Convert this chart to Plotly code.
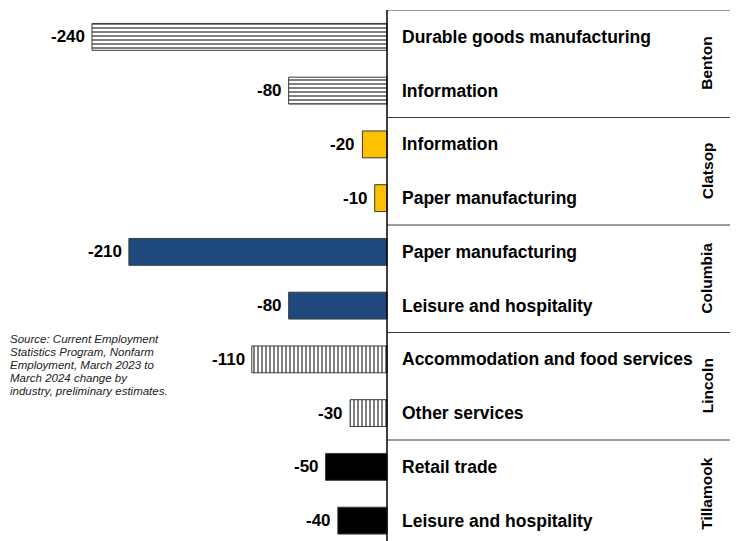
import plotly.graph_objects as go

counties = ["Benton", "Benton", "Clatsop", "Clatsop", "Columbia", "Columbia",
            "Lincoln", "Lincoln", "Tillamook", "Tillamook"]
industries = ["Durable goods manufacturing", "Information", "Information",
              "Paper manufacturing", "Paper manufacturing", "Leisure and hospitality",
              "Accommodation and food services", "Other services", "Retail trade",
              "Leisure and hospitality"]
changes = [-240, -80, -20, -10, -210, -80, -110, -30, -50, -40]
group_names = ["Benton", "Clatsop", "Columbia", "Lincoln", "Tillamook"]
source_lines = ["Source: Current Employment", "Statistics Program, Nonfarm",
                "Employment, March 2023 to", "March 2024 change by",
                "industry, preliminary estimates."]

styles = {
    "Benton": dict(color="white", pattern=dict(shape="-", fgcolor="black", bgcolor="white", size=4, solidity=0.5)),
    "Clatsop": dict(color="#FFC000", pattern=None),
    "Columbia": dict(color="#1F497D", pattern=None),
    "Lincoln": dict(color="white", pattern=dict(shape="|", fgcolor="black", bgcolor="white", size=4, solidity=0.5)),
    "Tillamook": dict(color="black", pattern=None),
}

FONT = "Liberation Sans, Arial, sans-serif"
# page body has an 8px margin: the figure starts at page (8, 8)
OFF = 8
W, H = 738 - OFF, 541 - OFF
ML, MR, MT, MB = 0, 5, 10 - OFF, 0
PW = W - ML - MR
PH = H - MT - MB
ZERO = 387 - OFF - ML   # local pixel of x=0 inside the plot area

fig = go.Figure()
ypos = list(range(len(changes)))
for g in group_names:
    idx = [i for i, c in enumerate(counties) if c == g]
    st = styles[g]
    marker = dict(color=st["color"], line=dict(color="#3a3a3a", width=1))
    if st["pattern"]:
        marker["pattern"] = st["pattern"]
    fig.add_trace(go.Bar(
        x=[changes[i] for i in idx], y=[ypos[i] for i in idx], orientation="h",
        width=0.5, marker=marker, showlegend=False, hoverinfo="skip"))

k = 295 / 240
xr = [-ZERO / k, (PW - ZERO) / k]
n = len(changes)

# value labels
for i, v in enumerate(changes):
    fig.add_annotation(x=v, y=ypos[i], text=f"<b>{v}</b>", showarrow=False,
                       xanchor="right", yanchor="middle", xshift=-5,
                       font=dict(family=FONT, size=17, color="black"))

# category labels
for i, lab in enumerate(industries):
    fig.add_annotation(x=(400 - 387) / k, y=ypos[i], text=f"<b>{lab}</b>", showarrow=False,
                       xanchor="left", yanchor="middle",
                       font=dict(family=FONT, size=17.5, color="black"))

bounds = []
for g in group_names:
    idx = [i for i, c in enumerate(counties) if c == g]
    bounds.append(min(idx) - 0.5)
    fig.add_annotation(x=(707 - 387) / k, y=(min(idx) + max(idx)) / 2, text=f"<b>{g}</b>",
                       showarrow=False, textangle=-90, xanchor="center", yanchor="middle",
                       font=dict(family=FONT, size=15.5, color="black"))
for b0 in bounds:
    fig.add_shape(type="line", xref="x", yref="y", x0=0, x1=(732 - 387) / k, y0=b0, y1=b0,
                  line=dict(color="#3a3a3a", width=1.2))
fig.add_shape(type="line", xref="x", yref="paper", x0=0, x1=0, y0=0, y1=1,
              line=dict(color="black", width=1.5))

# source note
for j, line in enumerate(source_lines):
    fig.add_annotation(xref="paper", yref="paper", x=0, y=1 - (339 + 13 * j - 10) / PH,
                       text=f"<i>{line}</i>", showarrow=False, xanchor="left", yanchor="middle",
                       font=dict(family=FONT, size=11.5, color="#222222"))

fig.update_layout(
    width=W, height=H, margin=dict(l=ML, r=MR, t=MT, b=MB),
    plot_bgcolor="white", paper_bgcolor="white", barmode="overlay",
    xaxis=dict(range=xr, showgrid=False, zeroline=False, showticklabels=False, fixedrange=True),
    yaxis=dict(range=[-0.5 + PH / 53.75, -0.5], showgrid=False, zeroline=False, showticklabels=False),
)
fig.write_html("out.html")
